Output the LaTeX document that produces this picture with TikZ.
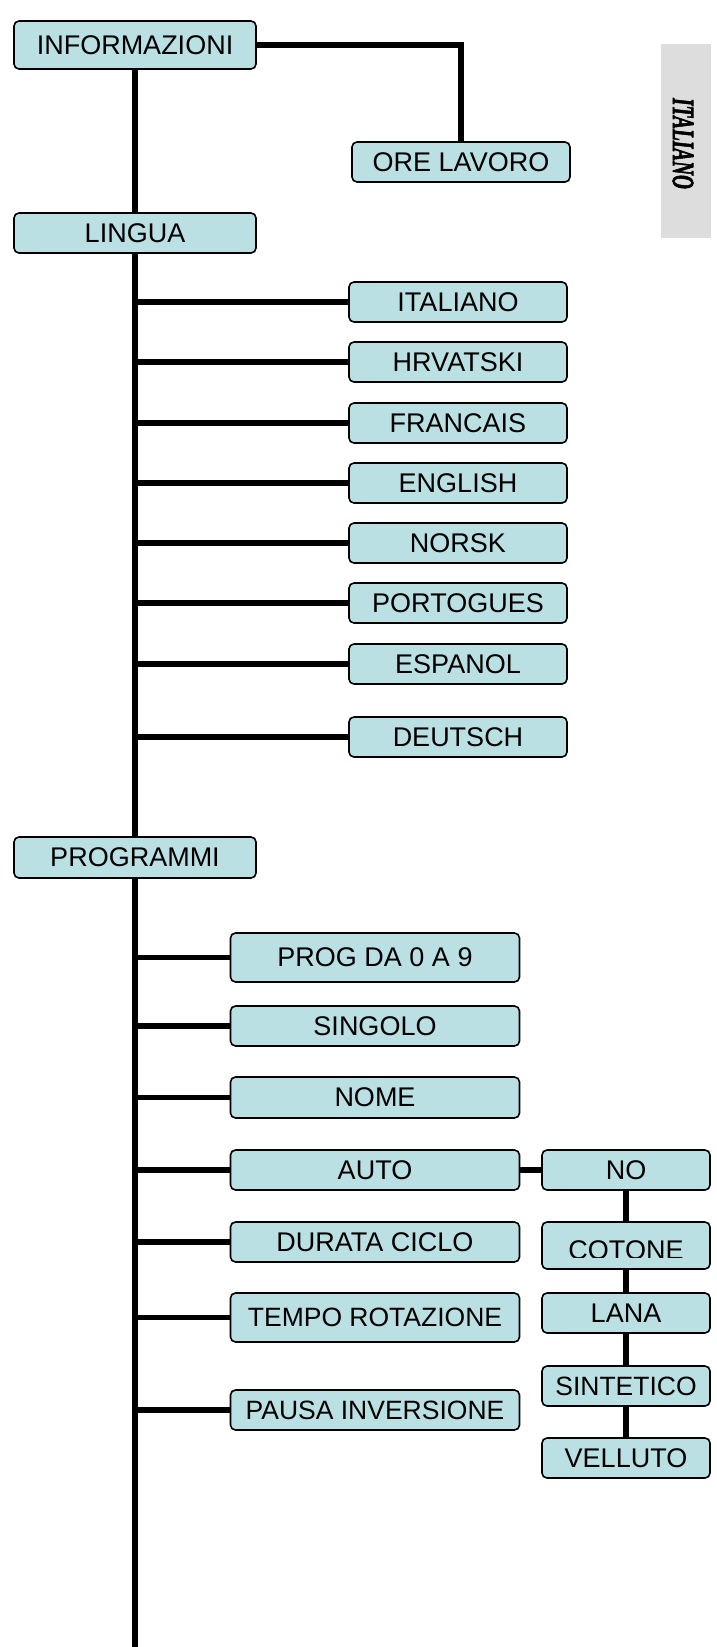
\documentclass[tikz,border=0pt]{standalone}
\usepackage{fontspec}
\setmainfont{Liberation Sans}
\newfontfamily\tabfont[BoldItalicFeatures={FakeBold=2.5}]{Liberation Serif}
\definecolor{boxfill}{RGB}{187,224,227}
\definecolor{tabgray}{RGB}{221,221,221}
\begin{document}
\begin{tikzpicture}[x=1pt,y=-1pt,
  box/.style={draw=black, fill=boxfill, rounded corners=5pt, line width=1.6pt,
    inner sep=0pt, font=\fontsize{27}{30}\selectfont},
  topbox/.style={box, minimum width=242pt, minimum height=40pt},
  langbox/.style={box, minimum width=218pt, minimum height=40pt},
  progbox/.style={box, minimum width=289pt, minimum height=40pt},
  subbox/.style={box, minimum width=168pt, minimum height=40pt},
  conn/.style={line width=5.7pt, draw=black}]
\useasboundingbox (0,0) rectangle (717,1647);

% side tab
\node[fill=tabgray, minimum width=50pt, minimum height=194pt, inner sep=0pt] (tab) at (686,141) {};
\node[rotate=-90, inner sep=0pt] (tabtext) at (683,143.5)
  {\scalebox{0.62}[1]{\tabfont\bfseries\itshape\fontsize{31}{31}\selectfont ITALIANO}};

% main boxes
\node[topbox, minimum height=48pt] (info) at (135,45) {INFORMAZIONI};
\node[langbox] (ore) at (461,162) {ORE LAVORO};
\node[topbox] (lingua) at (135,233) {LINGUA};

\node[langbox] (it) at (458,302) {ITALIANO};
\node[langbox] (hr) at (458,362) {HRVATSKI};
\node[langbox] (fr) at (458,423) {FRANCAIS};
\node[langbox] (en) at (458,483) {ENGLISH};
\node[langbox] (no) at (458,543) {NORSK};
\node[langbox] (pt) at (458,603) {PORTOGUES};
\node[langbox] (es) at (458,664) {ESPANOL};
\node[langbox] (de) at (458,737) {DEUTSCH};

\node[topbox, minimum height=41pt] (prg) at (135,857.5) {PROGRAMMI};

\node[progbox, minimum height=49pt] (p09) at (375,957.5) {PROG DA 0 A 9};
\node[progbox] (sing) at (375,1026) {SINGOLO};
\node[progbox, minimum height=41pt] (nome) at (375,1097.5) {NOME};
\node[progbox] (auto) at (375,1170) {AUTO};
\node[progbox] (dur) at (375,1242) {DURATA CICLO};
\node[progbox, minimum height=49pt, font=\fontsize{26.5}{30}\selectfont] (tempo) at (375,1317.5) {TEMPO ROTAZIONE};
\node[progbox, font=\fontsize{26.5}{30}\selectfont] (pausa) at (375,1410) {PAUSA INVERSIONE};

\node[subbox] (sno) at (626,1170) {NO};
\node[subbox, minimum height=47pt] (cot) at (626,1245.5) {};
\begin{scope}
  \clip (542,1222) rectangle (710,1257);
  \node[inner sep=0pt, font=\fontsize{27}{30}\selectfont, anchor=north] (cottext) at (626,1240) {COTONE};
\end{scope}
\node[subbox] (lana) at (626,1313) {LANA};
\node[subbox, font=\fontsize{26.5}{30}\selectfont] (sint) at (626,1386) {SINTETICO};
\node[subbox] (vell) at (626,1458) {VELLUTO};

% connectors
\coordinate (bottom) at (135,1647);
\draw[conn] (info.east) -| (ore.north);
\draw[conn] (info.south) -- (lingua.north);
\draw[conn] (lingua.south) -- (prg.north);
\draw[conn] (prg.south) -- (bottom);

\foreach \n in {it,hr,fr,en,no,pt,es,de}
  \draw[conn] (lingua.south |- \n.west) -- (\n.west);
\foreach \n in {p09,sing,nome,auto,dur,tempo,pausa}
  \draw[conn] (prg.south |- \n.west) -- (\n.west);

\draw[conn] (auto.east) -- (sno.west);
\draw[conn] (sno.south) -- (cot.north);
\draw[conn] (cot.south) -- (lana.north);
\draw[conn] (lana.south) -- (sint.north);
\draw[conn] (sint.south) -- (vell.north);
\end{tikzpicture}
\end{document}
